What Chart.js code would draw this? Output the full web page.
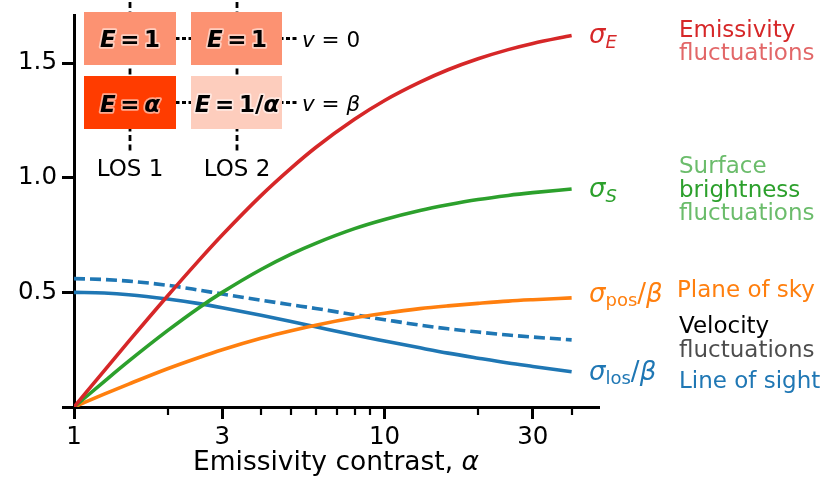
<!DOCTYPE html>
<html>
<head>
<meta charset="utf-8">
<script src="https://cdn.jsdelivr.net/npm/chart.js@4.4.1/dist/chart.umd.min.js"></script>
<style>
  body { margin: 0; background: #fff; }
  canvas { display: block; }
</style>
</head>
<body>
<canvas id="chart" width="831" height="499"></canvas>
<script>
// emissivity contrast values and the curves
const alpha = [1, 1.25, 1.5, 2, 2.5, 3, 4, 5, 6, 8, 10, 13, 16, 20, 25, 30, 40];
const sigmaE = [0, 0.158, 0.286, 0.484, 0.633, 0.75, 0.922, 1.042, 1.132, 1.255, 1.337, 1.417, 1.471, 1.519, 1.559, 1.586, 1.621];
const sigmaS = [0, 0.111, 0.2, 0.333, 0.429, 0.5, 0.6, 0.667, 0.714, 0.778, 0.818, 0.857, 0.882, 0.905, 0.923, 0.935, 0.951];
const sigmaPos = [0, 0.056, 0.1, 0.167, 0.214, 0.25, 0.3, 0.333, 0.357, 0.389, 0.409, 0.429, 0.441, 0.452, 0.462, 0.468, 0.476];
const sigmaLos = [0.5, 0.497, 0.49, 0.471, 0.452, 0.433, 0.4, 0.373, 0.35, 0.314, 0.288, 0.258, 0.235, 0.213, 0.192, 0.177, 0.154];
const sigmaLosDashed = [0.56, 0.556, 0.549, 0.531, 0.511, 0.493, 0.466, 0.446, 0.43, 0.402, 0.381, 0.357, 0.341, 0.327, 0.314, 0.305, 0.293];

const xTicks = [1, 2, 3, 4, 5, 6, 7, 8, 9, 10, 20, 30, 40];
const xTickLabels = ['1', '3', '10', '30'];
const yTicks = [0, 0.5, 1.0, 1.5];

const FONT = '"DejaVu Sans", sans-serif';
const RED = '#d62728', GREEN = '#2ca02c', ORANGE = '#ff7f0e', BLUE = '#1f77b4';
const TS = '\u2009'; // thin space, like mathtext spacing round "="

function pts(ys) {
    return alpha.map((a, i) => ({ x: a, y: ys[i] }));
}

function line(ys, color, dash) {
    return {
        data: pts(ys),
        borderColor: color,
        borderWidth: 3.6,
        borderDash: dash || [],
        pointRadius: 0,
        fill: false,
        cubicInterpolationMode: 'monotone'
    };
}

// draw a string made of pieces with different fonts: [text, font, dy]
function rich(ctx, parts, x, y, align, stroke) {
    let w = 0;
    parts.forEach(p => { ctx.font = p[1]; w += ctx.measureText(p[0]).width; });
    let cx = align === 'center' ? x - w / 2 : x;
    parts.forEach(p => {
        ctx.font = p[1];
        if (stroke) {
            ctx.strokeStyle = stroke;
            ctx.lineWidth = 3.5;
            ctx.lineJoin = 'round';
            ctx.strokeText(p[0], cx, y + (p[2] || 0));
        }
        ctx.fillText(p[0], cx, y + (p[2] || 0));
        cx += ctx.measureText(p[0]).width;
    });
}

const annotations = {
    id: 'annotations',
    afterDraw(chart) {
        const ctx = chart.ctx;
        const xs = chart.scales.x;
        const area = chart.chartArea;
        ctx.save();

        // minor x ticks
        ctx.strokeStyle = 'black';
        ctx.lineWidth = 2.2;
        xTicks.forEach(v => {
            if (xTickLabels.includes(String(v))) return;
            const px = Math.round(xs.getPixelForValue(v));
            ctx.beginPath();
            ctx.moveTo(px, area.bottom);
            ctx.lineTo(px, area.bottom + 8);
            ctx.stroke();
        });

        // x axis title
        ctx.fillStyle = 'black';
        ctx.textBaseline = 'alphabetic';
        rich(ctx, [['Emissivity contrast, ', '26.5px ' + FONT], ['α', 'italic 26.5px ' + FONT]], 336, 470, 'center');

        // inset: dashed guide lines
        ctx.strokeStyle = 'black';
        ctx.lineWidth = 2.8;
        ctx.setLineDash([6, 3.5]);
        [130, 237].forEach(x => {
            ctx.beginPath();
            ctx.moveTo(x, 2);
            ctx.lineTo(x, 153);
            ctx.stroke();
        });
        ctx.setLineDash([4, 2.5]);
        [38.5, 102.5].forEach(y => {
            ctx.beginPath();
            ctx.moveTo(130, y);
            ctx.lineTo(297, y);
            ctx.stroke();
        });
        ctx.setLineDash([]);

        // inset boxes
        const boxes = [
            [84, 12, 92, 53, '#fc9272'],
            [191, 12, 91, 53, '#fc9272'],
            [84, 76, 92, 53, '#ff3c00'],
            [191, 76, 91, 53, '#fdcdbd']
        ];
        boxes.forEach(b => {
            ctx.fillStyle = b[4];
            ctx.fillRect(b[0], b[1], b[2], b[3]);
        });

        const bi = 'italic bold 23px ' + FONT;
        const bu = 'bold 23px ' + FONT;
        const halo = 'rgba(255,255,255,0.55)';
        const eq = TS + '=' + TS;
        ctx.fillStyle = 'black';
        rich(ctx, [['E', bi], [eq, bu], ['1', bu]], 130, 47, 'center', halo);
        rich(ctx, [['E', bi], [eq, bu], ['1', bu]], 237, 47, 'center', halo);
        rich(ctx, [['E', bi], [eq, bu], ['α', bi]], 130, 111.5, 'center', halo);
        rich(ctx, [['E', bi], [eq, bu], ['1/', bu], ['α', bi]], 237, 111.5, 'center', halo);

        const it = 'italic 21.5px ' + FONT;
        const rm = '21.5px ' + FONT;
        rich(ctx, [['v', it], [' = 0', rm]], 302, 46.5, 'left');
        rich(ctx, [['v', it], [' = ', rm], ['β', it]], 302, 110.5, 'left');

        ctx.font = '23px ' + FONT;
        ctx.textAlign = 'center';
        ctx.fillText('LOS 1', 130, 176);
        ctx.fillText('LOS 2', 237, 176);
        ctx.textAlign = 'left';

        // curve names
        const sg = 'italic 26px ' + FONT;
        const sub = 'italic 18px ' + FONT;
        const subr = '18px ' + FONT;
        const rm26 = '26px ' + FONT;
        ctx.fillStyle = RED;
        rich(ctx, [['σ', sg], ['E', sub, 5]], 589, 43, 'left');
        ctx.fillStyle = GREEN;
        rich(ctx, [['σ', sg], ['S', sub, 5]], 589, 197, 'left');
        ctx.fillStyle = ORANGE;
        rich(ctx, [['σ', sg], ['pos', subr, 4], ['/', rm26], ['β', sg]], 589, 302, 'left');
        ctx.fillStyle = BLUE;
        rich(ctx, [['σ', sg], ['los', subr, 4], ['/', rm26], ['β', sg]], 589, 380, 'left');

        // descriptions
        const lab = [
            ['Emissivity', 679, 36.7, RED],
            ['fluctuations', 679, 60, 'rgba(214,39,40,0.7)'],
            ['Surface', 679, 173.3, 'rgba(44,160,44,0.7)'],
            ['brightness', 679, 196.7, GREEN],
            ['fluctuations', 679, 220, 'rgba(44,160,44,0.7)'],
            ['Plane of sky', 677, 296.7, ORANGE],
            ['Velocity', 679, 333, 'black'],
            ['fluctuations', 679, 356.7, 'rgba(0,0,0,0.7)'],
            ['Line of sight', 679, 388, BLUE]
        ];
        ctx.font = '23px ' + FONT;
        lab.forEach(l => {
            ctx.fillStyle = l[3];
            ctx.fillText(l[0], l[1], l[2]);
        });

        ctx.restore();
    }
};

const config = {
    type: 'line',
    data: {
        datasets: [
            line(sigmaE, RED),
            line(sigmaS, GREEN),
            line(sigmaPos, ORANGE),
            line(sigmaLos, BLUE),
            line(sigmaLosDashed, BLUE, [11, 5])
        ]
    },
    options: {
        responsive: false,
        animation: false,
        devicePixelRatio: 1,
        layout: { padding: { top: 15, right: 232, left: 0, bottom: 0 } },
        plugins: { legend: { display: false }, tooltip: { enabled: false } },
        scales: {
            x: {
                type: 'logarithmic',
                min: 1,
                max: 49,
                afterBuildTicks: (scale) => { scale.ticks = xTicks.map(v => ({ value: v })); },
                afterFit: (scale) => {
                    scale.height = 92;
                    scale.paddingLeft = 0;
                    scale.paddingRight = 0;
                },
                ticks: {
                    autoSkip: false,
                    maxRotation: 0,
                    padding: 4,
                    color: 'black',
                    font: { family: FONT, size: 24.5 },
                    callback: (v) => xTickLabels.includes(String(v)) ? String(v) : ''
                },
                grid: {
                    drawOnChartArea: false,
                    drawTicks: true,
                    tickLength: 12,
                    tickWidth: 3,
                    tickColor: (c) => (c.tick && xTickLabels.includes(String(c.tick.value))) ? 'black' : 'rgba(0,0,0,0)'
                },
                border: { display: true, color: 'black', width: 3 }
            },
            y: {
                min: 0,
                max: 1.71,
                afterBuildTicks: (scale) => { scale.ticks = yTicks.map(v => ({ value: v })); },
                afterFit: (scale) => {
                    scale.width = 74;
                    scale.paddingTop = 0;
                    scale.paddingBottom = 0;
                },
                ticks: {
                    padding: 5,
                    color: 'black',
                    font: { family: FONT, size: 24.5 },
                    callback: (v) => v === 0 ? '' : v.toFixed(1)
                },
                grid: {
                    drawOnChartArea: false,
                    drawTicks: true,
                    tickLength: 12,
                    tickWidth: 3,
                    tickColor: 'black'
                },
                border: { display: true, color: 'black', width: 3 }
            }
        }
    },
    plugins: [annotations]
};

new Chart(document.getElementById('chart').getContext('2d'), config);
</script>
</body>
</html>
